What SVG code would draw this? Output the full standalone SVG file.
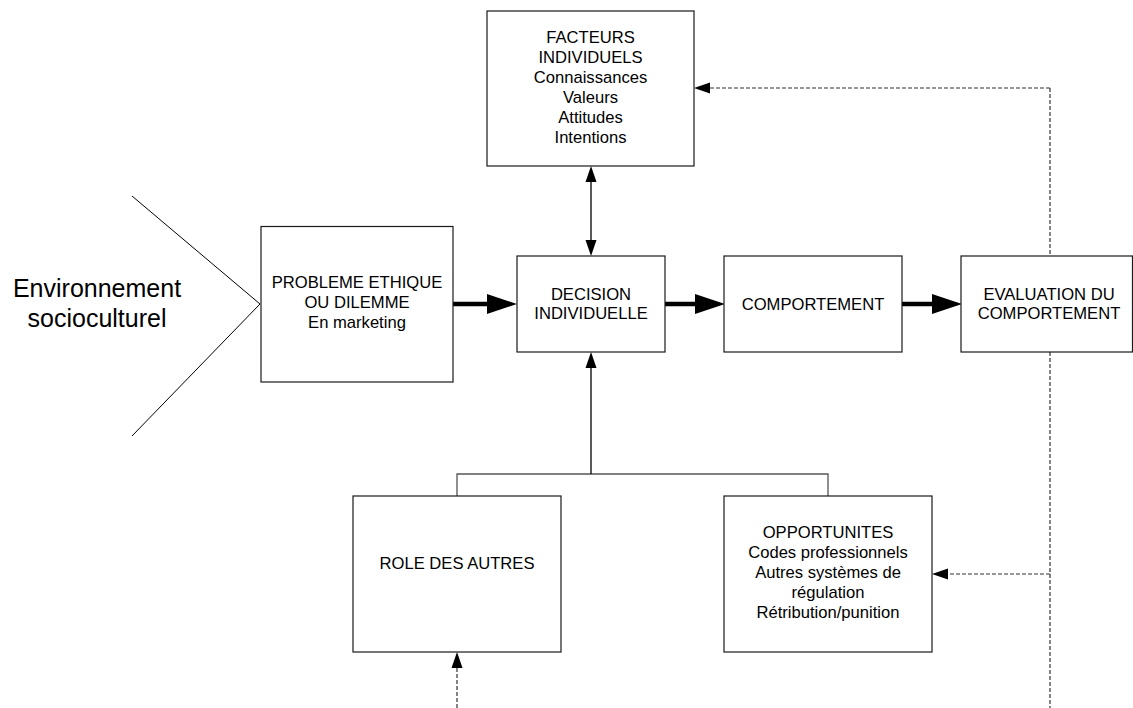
<svg xmlns="http://www.w3.org/2000/svg" width="1133" height="708" viewBox="0 0 1133 708">
  <style>
    .box { fill: #ffffff; stroke: #1a1a1a; stroke-width: 1.2; }
    .t { font-family: "Liberation Sans", Arial, sans-serif; font-size: 16.6px; fill: #000; text-anchor: middle; }
    .big { font-family: "Liberation Sans", Arial, sans-serif; font-size: 25px; fill: #000; text-anchor: middle; }
    .thick { stroke: #000; stroke-width: 4.5; fill: none; }
    .thin { stroke: #000; stroke-width: 1.3; fill: none; }
    .branch { stroke: #555; stroke-width: 1.3; fill: none; }
    .dash { stroke: #333; stroke-width: 1.2; stroke-dasharray: 4 2; fill: none; }
  </style>
  <defs>
    <marker id="bigHead" markerUnits="userSpaceOnUse" markerWidth="30" markerHeight="20" refX="0" refY="10" orient="auto">
      <path d="M0,0 L30,10 L0,20 z" fill="#000"/>
    </marker>
    <marker id="smallHead" markerUnits="userSpaceOnUse" markerWidth="16" markerHeight="12" refX="0" refY="6" orient="auto-start-reverse">
      <path d="M0,0.5 L16,6 L0,11.5 z" fill="#000"/>
    </marker>
  </defs>

  <g id="connectors">
    <!-- environment chevron -->
    <polyline points="132,196 260,304 132,436" fill="none" stroke="#000" stroke-width="1"/>
    <!-- feedback dashed vertical -->
    <line class="dash" x1="1050" y1="88" x2="1050" y2="708"/>
    <line class="dash" x1="1050" y1="88" x2="710" y2="88" marker-end="url(#smallHead)"/>
    <line class="dash" x1="1050" y1="574" x2="948" y2="574" marker-end="url(#smallHead)"/>
    <!-- dashed into ROLE -->
    <line class="dash" x1="457" y1="708" x2="457" y2="668" marker-end="url(#smallHead)"/>
    <!-- thick main flow -->
    <line class="thick" x1="453" y1="304" x2="487" y2="304" marker-end="url(#bigHead)"/>
    <line class="thick" x1="665" y1="304" x2="695" y2="304" marker-end="url(#bigHead)"/>
    <line class="thick" x1="902" y1="304" x2="932" y2="304" marker-end="url(#bigHead)"/>
    <!-- double arrow factors/decision -->
    <line class="thin" x1="591" y1="182" x2="591" y2="240" marker-start="url(#smallHead)" marker-end="url(#smallHead)"/>
    <!-- branch from bottom boxes to decision -->
    <polyline class="branch" points="457,496 457,474 828,474 828,496"/>
    <line class="thin" x1="591" y1="474" x2="591" y2="368" marker-end="url(#smallHead)"/>
  </g>

  <g id="environnement">
    <text class="big" x="97" y="297">Environnement</text>
    <text class="big" x="97" y="327">socioculturel</text>
  </g>

  <g id="facteurs">
    <rect class="box" x="487" y="11" width="207" height="155"/>
    <text class="t" x="590.5" y="43">FACTEURS</text>
    <text class="t" x="590.5" y="63">INDIVIDUELS</text>
    <text class="t" x="590.5" y="83">Connaissances</text>
    <text class="t" x="590.5" y="103">Valeurs</text>
    <text class="t" x="590.5" y="123">Attitudes</text>
    <text class="t" x="590.5" y="143">Intentions</text>
  </g>

  <g id="probleme">
    <rect class="box" x="261" y="226.5" width="192" height="155.5"/>
    <text class="t" x="357" y="288">PROBLEME ETHIQUE</text>
    <text class="t" x="357" y="308">OU DILEMME</text>
    <text class="t" x="357" y="328">En marketing</text>
  </g>

  <g id="decision">
    <rect class="box" x="517" y="256" width="148" height="96"/>
    <text class="t" x="591" y="300">DECISION</text>
    <text class="t" x="591" y="319">INDIVIDUELLE</text>
  </g>

  <g id="comportement">
    <rect class="box" x="724" y="256" width="178" height="96"/>
    <text class="t" x="813" y="310">COMPORTEMENT</text>
  </g>

  <g id="evaluation">
    <rect class="box" x="961" y="256" width="171.5" height="96"/>
    <text class="t" x="1049" y="300">EVALUATION DU</text>
    <text class="t" x="1049" y="319">COMPORTEMENT</text>
  </g>

  <g id="role">
    <rect class="box" x="353" y="496" width="208" height="156"/>
    <text class="t" x="457" y="569">ROLE DES AUTRES</text>
  </g>

  <g id="opportunites">
    <rect class="box" x="724" y="496" width="208" height="156"/>
    <text class="t" x="828" y="538">OPPORTUNITES</text>
    <text class="t" x="828" y="558">Codes professionnels</text>
    <text class="t" x="828" y="578">Autres systèmes de</text>
    <text class="t" x="828" y="598">régulation</text>
    <text class="t" x="828" y="618">Rétribution/punition</text>
  </g>
</svg>
